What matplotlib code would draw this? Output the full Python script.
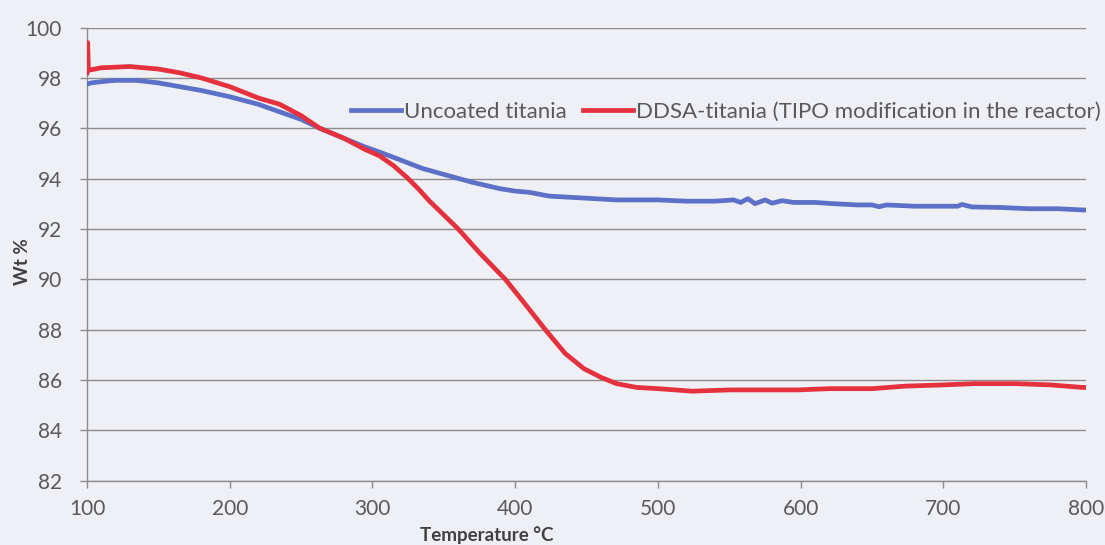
import matplotlib
matplotlib.use("Agg")
import matplotlib.pyplot as plt

# TGA curves
uncoated_temp = [100, 103, 110, 120, 135, 150, 165, 180, 200, 220, 235, 250, 263,
                 280, 295, 305, 319, 335, 354, 370, 389, 400, 410, 424, 440, 471,
                 500, 520, 540, 553, 558, 563, 568, 575, 580, 587, 595, 610, 623,
                 640, 650, 655, 660, 680, 693, 710, 713, 720, 740, 760, 780, 798, 800]
uncoated_wt = [97.75, 97.8, 97.85, 97.9, 97.9, 97.8, 97.65, 97.5, 97.25, 96.95, 96.65,
               96.35, 96.0, 95.6, 95.25, 95.05, 94.75, 94.4, 94.1, 93.85, 93.6, 93.5,
               93.45, 93.3, 93.25, 93.15, 93.15, 93.1, 93.1, 93.15, 93.05, 93.2, 93.0,
               93.15, 93.02, 93.12, 93.05, 93.05, 93.0, 92.95, 92.95, 92.88, 92.95, 92.9,
               92.9, 92.9, 92.97, 92.87, 92.85, 92.8, 92.8, 92.75, 92.75]

ddsa_temp = [100, 100.5, 101, 110, 130, 150, 165, 180, 200, 220, 235, 250, 263, 280,
             295, 305, 315, 324, 332, 340, 350, 360, 375, 393, 405, 421, 435, 448,
             460, 471, 485, 500, 524, 550, 575, 598, 620, 650, 673, 700, 722, 750,
             775, 797, 800]
ddsa_wt = [98.2, 99.4, 98.3, 98.4, 98.45, 98.35, 98.2, 98.0, 97.65, 97.2, 96.95, 96.5,
           96.0, 95.6, 95.15, 94.9, 94.5, 94.05, 93.6, 93.1, 92.55, 92.0, 91.05, 90.0,
           89.15, 88.0, 87.05, 86.45, 86.1, 85.85, 85.7, 85.65, 85.55, 85.6, 85.6,
           85.6, 85.65, 85.65, 85.75, 85.8, 85.85, 85.85, 85.8, 85.7, 85.7]

x_ticks = [100, 200, 300, 400, 500, 600, 700, 800]
y_ticks = [82, 84, 86, 88, 90, 92, 94, 96, 98, 100]

bg = '#eef0f6'
text_col = '#595959'
grid_col = '#8c8c8c'

plt.rcParams['font.family'] = ['Lato', 'DejaVu Sans']

fig = plt.figure(figsize=(11.05, 5.45), dpi=100)
fig.patch.set_facecolor(bg)
ax = fig.add_axes([0.0787, 0.1183, 0.9043, 0.8312])
ax.set_facecolor(bg)

l1, = ax.plot(uncoated_temp, uncoated_wt, color='#5b70c6', lw=3.4,
              label='Uncoated titania', zorder=3)
l2, = ax.plot(ddsa_temp, ddsa_wt, color='#e5303d', lw=3.4,
              label='DDSA-titania (TIPO modification in the reactor)', zorder=4)

ax.set_xlim(100, 800)
ax.set_ylim(82, 100)
ax.set_xticks(x_ticks)
ax.set_yticks(y_ticks)
ax.yaxis.grid(True, color=grid_col, lw=1.0)
ax.set_axisbelow(True)

for s in ['top', 'right']:
    ax.spines[s].set_visible(False)
for s in ['left', 'bottom']:
    ax.spines[s].set_color(grid_col)
    ax.spines[s].set_linewidth(1.0)

ax.tick_params(axis='x', direction='out', length=5, width=1, color=grid_col,
               labelsize=15, labelcolor=text_col, pad=8)
ax.tick_params(axis='y', direction='out', length=5, width=1, color=grid_col,
               labelsize=15, labelcolor=text_col, pad=13)

fig.legend(handles=[l1, l2], loc='center left', bbox_to_anchor=(0.318, 0.795),
           ncol=2, frameon=False, fontsize=16, handlelength=2.25,
           handletextpad=0.12, columnspacing=0.75, labelcolor=text_col,
           borderaxespad=0, borderpad=0)

fig.text(487 / 1105, 1 - 535 / 545, 'Temperature °C', ha='center', va='center',
         fontsize=13.5, fontweight='bold', color='#404040')
fig.text(22 / 1105, 1 - 262 / 545, 'Wt %', ha='center', va='center',
         rotation=90, fontsize=13.5, fontweight='bold', color='#404040')

fig.savefig('out.png', dpi=100, facecolor=bg)
